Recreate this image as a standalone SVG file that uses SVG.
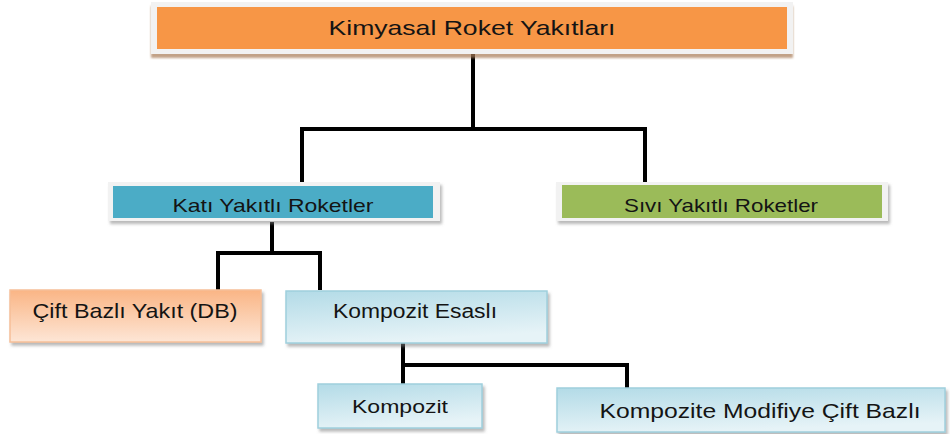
<svg xmlns="http://www.w3.org/2000/svg" width="950" height="434" viewBox="0 0 950 434">
<defs>
<linearGradient id="gPeach" x1="0" y1="0" x2="0" y2="1">
<stop offset="0" stop-color="#fab585"/><stop offset="1" stop-color="#fde6d6"/>
</linearGradient>
<linearGradient id="gBlue" x1="0" y1="0" x2="0.3" y2="1">
<stop offset="0" stop-color="#b3dbe7"/><stop offset="1" stop-color="#e6f3f7"/>
</linearGradient>
<filter id="sh" x="-5%" y="-20%" width="110%" height="150%">
<feDropShadow dx="2" dy="3" stdDeviation="1.5" flood-color="#7f7f7f" flood-opacity="0.55"/>
</filter>
<filter id="shBrown" x="-5%" y="-20%" width="110%" height="150%">
<feDropShadow dx="0" dy="4" stdDeviation="0.8" flood-color="#a87a55" flood-opacity="0.7"/>
</filter>
</defs>
<style>
.frame{fill:#f2f2f2;}
.t{font-family:"Liberation Sans","Open Sans",Arial,sans-serif;fill:#141414;text-anchor:middle;}
.conn{fill:none;stroke:#000;stroke-width:4;stroke-linejoin:miter;stroke-linecap:butt;}
.peach{fill:url(#gPeach);stroke:#f6bf98;stroke-width:1.5;}
.blue{fill:url(#gBlue);stroke:#9fcfdd;stroke-width:1.5;}
</style>
<rect width="950" height="434" fill="#ffffff"/>

<g id="connectors">
<path class="conn" d="M473,53 V129"/>
<path class="conn" d="M302,183 V129 H645 V183"/>
<path class="conn" d="M272,222 V253"/>
<path class="conn" d="M218,290 V253 H320 V290"/>
<path class="conn" d="M403,343 V385"/>
<path class="conn" d="M403,365 H627 V388"/>
</g>

<g id="node-kimyasal">
<rect class="frame" x="151" y="2" width="642" height="52" filter="url(#shBrown)"/>
<rect x="157" y="7" width="630" height="42" fill="#f79646"/>
<text class="t" x="472" y="35" font-size="21" textLength="287" lengthAdjust="spacingAndGlyphs">Kimyasal Roket Yakıtları</text>
</g>

<g id="node-kati">
<rect class="frame" x="108" y="182" width="332" height="39" filter="url(#sh)"/>
<rect x="113" y="186" width="320" height="32" fill="#4bacc6"/>
<text class="t" x="273" y="212" font-size="18.5" textLength="201" lengthAdjust="spacingAndGlyphs">Katı Yakıtlı Roketler</text>
</g>

<g id="node-sivi">
<rect class="frame" x="556" y="182" width="332" height="39" filter="url(#sh)"/>
<rect x="562" y="185" width="320" height="33" fill="#9bbb59"/>
<text class="t" x="721" y="212" font-size="18.5" textLength="194" lengthAdjust="spacingAndGlyphs">Sıvı Yakıtlı Roketler</text>
</g>

<g id="node-cift">
<rect class="peach" x="10" y="290" width="251" height="52" filter="url(#sh)"/>
<text class="t" x="135" y="318" font-size="21" textLength="205" lengthAdjust="spacingAndGlyphs">Çift Bazlı Yakıt (DB)</text>
</g>

<g id="node-kompozit-esasli">
<rect class="blue" x="286" y="291" width="261" height="52" filter="url(#sh)"/>
<text class="t" x="415" y="318" font-size="20" textLength="164" lengthAdjust="spacingAndGlyphs">Kompozit Esaslı</text>
</g>

<g id="node-kompozit">
<rect class="blue" x="318" y="384" width="164" height="44" filter="url(#sh)"/>
<text class="t" x="400" y="413" font-size="19" textLength="96" lengthAdjust="spacingAndGlyphs">Kompozit</text>
</g>

<g id="node-kompozite-modifiye">
<rect class="blue" x="557" y="388" width="388" height="44" filter="url(#sh)"/>
<text class="t" x="760" y="418" font-size="21" textLength="321" lengthAdjust="spacingAndGlyphs">Kompozite Modifiye Çift Bazlı</text>
</g>
</svg>
